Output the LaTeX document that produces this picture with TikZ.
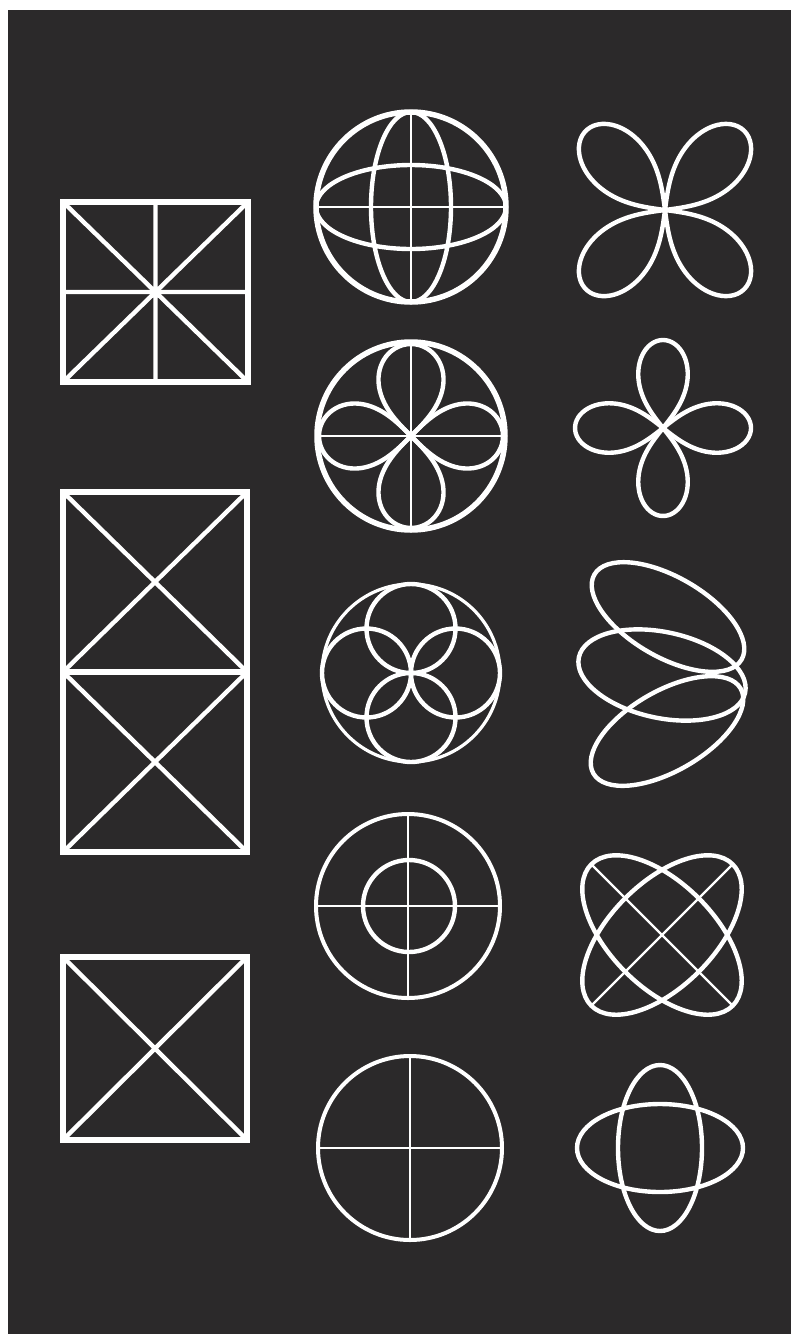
\documentclass[tikz,border=0pt]{standalone}
\usepackage{amsmath}
\definecolor{bgdark}{RGB}{43,41,42}

\begin{document}
\begin{tikzpicture}[x=1pt,y=1pt,
  heavy/.style={line width=5.5pt, white},
  medium/.style={line width=4.4pt, white},
  hair/.style={line width=2.4pt, white},
  lemni/.style={domain=0:360, samples=140, smooth, variable=\t}]
  % Background
  \fill[white] (0,0) rectangle (791,-1334);
  \fill[bgdark] (8,-10) rectangle (791,-1334);

  % Left column: squares and rectangle
  \draw[heavy] (63,-202) rectangle (248,-382);
  \draw[medium] (63,-202) -- (248,-382) (248,-202) -- (63,-382)
    (155.5,-202) -- (155.5,-382) (63,-292) -- (248,-292);

  \draw[heavy] (63,-492) rectangle (247,-852);
  \draw[heavy] (63,-672) -- (247,-672);
  \foreach \ya/\yb in {492/672, 672/852}
    \draw[medium] (63,-\ya) -- (247,-\yb) (247,-\ya) -- (63,-\yb);

  \draw[heavy] (63,-957) rectangle (247,-1140);
  \draw[medium] (63,-957) -- (247,-1140) (247,-957) -- (63,-1140);

  % Middle column: circles
  \draw[heavy] (411,-207) circle (95);
  \draw[medium] (411,-207) ellipse (40 and 95) (411,-207) ellipse (95 and 42);
  \draw[hair] (316,-207) -- (506,-207) (411,-112) -- (411,-302);

  \draw[heavy] (411,-436) circle (94);
  \draw[hair] (317,-436) -- (505,-436) (411,-342) -- (411,-530);
  \foreach \a in {0,90}
    \draw[medium, shift={(411,-436)}, rotate=\a] plot[lemni]
      ({92*cos(\t)/(1+sin(\t)*sin(\t))}, {92*sin(\t)*cos(\t)/(1+sin(\t)*sin(\t))});

  \draw[line width=3.2pt, white] (411,-673) circle (89);
  \foreach \a in {0,90,180,270}
    \draw[medium, shift={(411,-673)}] (\a:44.5) circle (44.5);

  \draw[line width=4pt, white] (408,-906) circle (92);
  \draw[medium] (409,-906) circle (46);
  \draw[hair] (316,-906) -- (500,-906) (408,-814) -- (408,-998);

  \draw[line width=4pt, white] (410,-1148) circle (92);
  \draw[hair] (318,-1148) -- (502,-1148) (410,-1056) -- (410,-1240);

  % Right column: curves
  \foreach \a in {45,-45}
    \draw[medium, shift={(665,-210)}, rotate=\a] plot[lemni]
      ({112*cos(\t)/(1+sin(\t)*sin(\t))}, {86*sin(\t)*cos(\t)/(1+sin(\t)*sin(\t))});

  \foreach \a in {0,90}
    \draw[medium, shift={(663,-428)}, rotate=\a] plot[lemni]
      ({88*cos(\t)/(1+sin(\t)*sin(\t))}, {70*sin(\t)*cos(\t)/(1+sin(\t)*sin(\t))});

  \foreach \cx/\cy/\rot/\b in {668/617/-30/40, 662/675/-12/43, 667/731/30/40}
    \draw[medium, shift={(\cx,-\cy)}, rotate=\rot] (0,0) ellipse (85 and \b);

  \foreach \a in {45,-45}
    \draw[medium, shift={(662,-935)}, rotate=\a] (0,0) ellipse (100 and 52);
  \draw[hair, shift={(662,-935)}] (45:100) -- (225:100) (135:100) -- (315:100);

  \draw[medium] (660,-1148) ellipse (42 and 83) (660,-1148) ellipse (83 and 44);
\end{tikzpicture}
\end{document}
